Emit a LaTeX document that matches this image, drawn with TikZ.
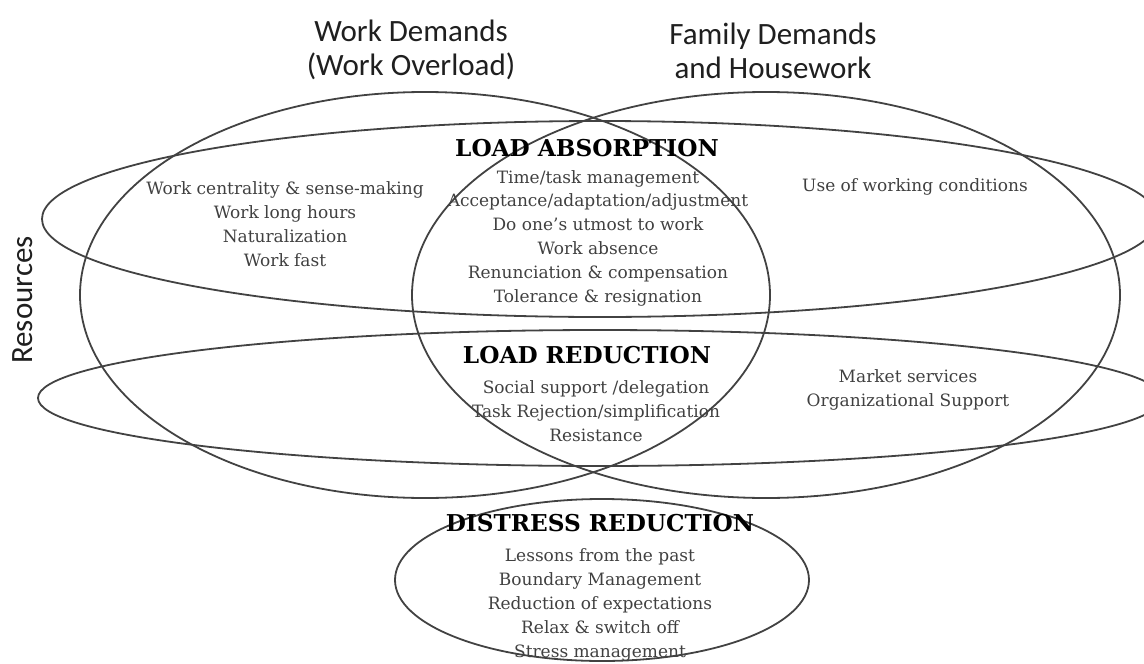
\documentclass[tikz,border=0pt]{standalone}
\usepackage{fontspec}
\setmainfont{DejaVu Serif}
\newfontfamily\calibrifont{Carlito}
\usetikzlibrary{positioning}

\begin{document}
\begin{tikzpicture}[
    x=1pt, y=-1pt,
    ring/.style={draw=black!74, line width=1.8pt},
    title/.style={font=\calibrifont\fontsize{31}{34}\selectfont, text=black!88, align=center, inner sep=0pt},
    heading/.style={font=\bfseries\fontsize{23.2}{27}\selectfont, inner sep=0pt},
    items/.style={font=\fontsize{17}{23.8}\selectfont, text=black!75, align=center, inner sep=0pt}
]
\useasboundingbox (0,0) rectangle (1144,664);

% demands (vertical sets) and resources (horizontal bands)
\draw[ring] (425,295) ellipse [x radius=345, y radius=203];
\draw[ring] (766,295) ellipse [x radius=354, y radius=203];
\draw[ring] (600,219) ellipse [x radius=558, y radius=98];
\draw[ring] (600,398) ellipse [x radius=562, y radius=68];
\draw[ring] (602,580) ellipse [x radius=207, y radius=81];

\node[title] (workdem) at (411,50) {Work Demands\\(Work Overload)};
\node[title] (famdem) at (773,51) {Family Demands\\and Housework};
\node[title, rotate=90] (resources) at (23,300) {Resources};

\node[heading] (absorb) at (587,148) {LOAD ABSORPTION};
\node[items] (absorbitems) at (598,238) {Time/task management\\Acceptance/adaptation/adjustment\\Do one's utmost to work\\Work absence\\Renunciation \& compensation\\Tolerance \& resignation};
\node[items] (workitems) at (285,224) {Work centrality \& sense-making\\Work long hours\\Naturalization\\Work fast};
\node[items] (workcond) at (915,187) {Use of working conditions};

\node[heading] (reduce) at (587,355) {LOAD REDUCTION};
\node[items] (reduceitems) at (596,411) {Social support /delegation\\Task Rejection/simplification\\Resistance};
\node[items] (market) at (908,390) {Market services\\Organizational Support};

\node[heading] (distress) at (600,523) {DISTRESS REDUCTION};
\node[items] (distressitems) at (600,605) {Lessons from the past\\Boundary Management\\Reduction of expectations\\Relax \& switch off\\Stress management};
\end{tikzpicture}
\end{document}
